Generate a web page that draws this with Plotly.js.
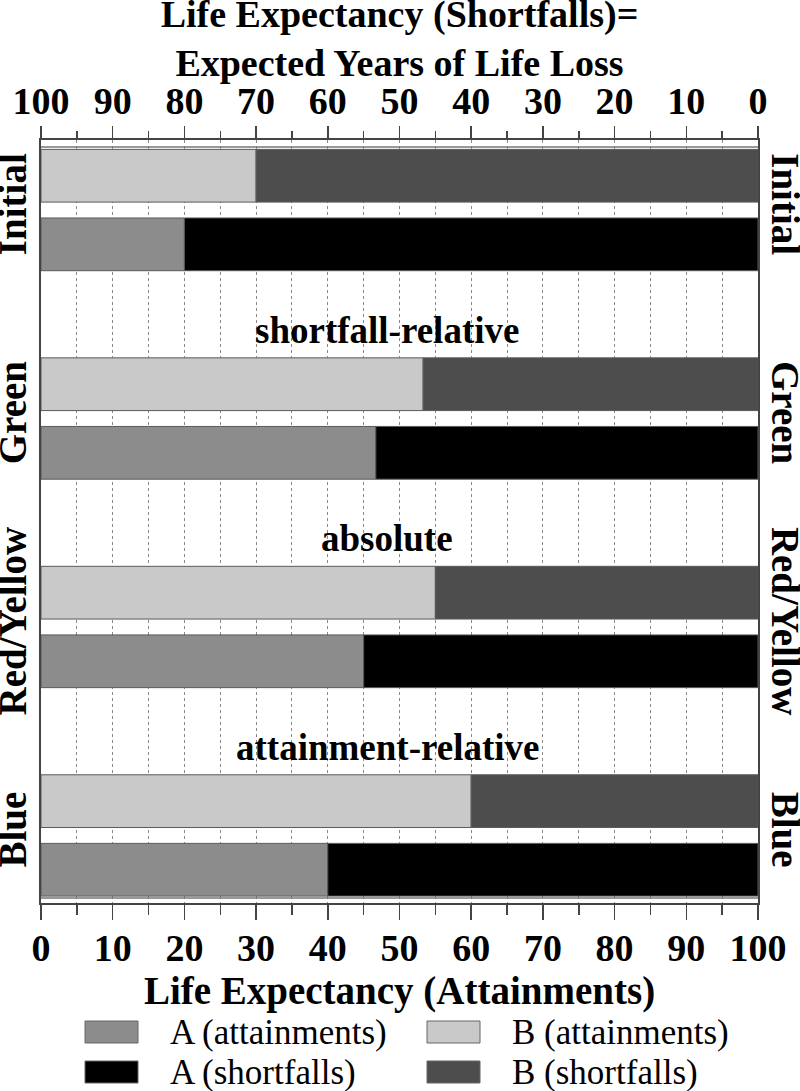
<!DOCTYPE html>
<html>
<head>
<meta charset="utf-8">
<script src="https://cdn.plot.ly/plotly-3.0.1.min.js"></script>
<style>html,body{margin:0;padding:0;background:#fff;}#chart{width:800px;height:1091px;}</style>
</head>
<body>
<div id="chart"></div>
<script>
// ---- data ----
const categories = ['Initial', 'Green', 'Red/Yellow', 'Blue'];
const aAttainments = [20, 46.7, 45, 40];
const aShortfalls  = [80, 53.3, 55, 60];
const bAttainments = [30, 53.3, 55, 60];
const bShortfalls  = [70, 46.7, 45, 40];
const scenarioNotes = ['', 'shortfall-relative', 'absolute', 'attainment-relative'];
const bottomTicks = [0, 10, 20, 30, 40, 50, 60, 70, 80, 90, 100];
const seriesNames = ['A (attainments)', 'B (attainments)', 'A (shortfalls)', 'B (shortfalls)'];

// ---- style ----
const FONT = 'Liberation Serif, Times New Roman, serif';
const colors = {
  'A (attainments)': '#8c8c8c',
  'A (shortfalls)': '#000000',
  'B (attainments)': '#c9c9c9',
  'B (shortfalls)': '#4d4d4d'
};
const barLine = {color: '#5a5a5a', width: 1};
const W = 800, H = 1091;
const M = {l: 41, r: 42, t: 140, b: 188};
const plotW = W - M.l - M.r, plotH = H - M.t - M.b;
const px2x = px => (px - M.l) / plotW;
const py2y = py => (H - M.b - py) / plotH;
const barWidth = 0.253;
const offB = -0.291, offA = 0.038;

function bar(name, x, base, offset) {
  return {
    type: 'bar', orientation: 'h', name: name,
    y: categories, x: x, base: base,
    width: categories.map(() => barWidth),
    offset: categories.map(() => offset),
    marker: {color: colors[name], line: barLine},
    showlegend: false, hoverinfo: 'x+y+name'
  };
}

const traces = [
  bar('B (attainments)', bAttainments, categories.map(() => 0), offB),
  bar('B (shortfalls)', bShortfalls, bAttainments, offB),
  bar('A (attainments)', aAttainments, categories.map(() => 0), offA),
  bar('A (shortfalls)', aShortfalls, aAttainments, offA),
  {
    type: 'scatter', mode: 'markers', x: aShortfalls, y: categories,
    xaxis: 'x2', yaxis: 'y2', marker: {opacity: 0}, hoverinfo: 'skip', showlegend: false
  }
];

const axisColor = '#444';
const tickFont = {family: FONT, size: 38, color: '#000', weight: 'bold'};
const catFont = {family: FONT, size: 39, color: '#000', weight: 'bold'};
const yRange = [3.324, -0.336];

const annotations = [];
scenarioNotes.forEach((t, i) => {
  if (!t) return;
  annotations.push({
    text: t, xref: 'x', yref: 'y', x: 48.3, y: i - 0.315,
    xanchor: 'center', yanchor: 'bottom', showarrow: false,
    font: {family: FONT, size: 37, color: '#000', weight: 'bold'}
  });
});

// legend (2 columns x 2 rows)
const shapes = [
  {type: 'line', xref: 'paper', yref: 'paper', x0: 0, x1: 1, y0: py2y(147), y1: py2y(147), line: {color: '#777', width: 1.5}},
  {type: 'line', xref: 'paper', yref: 'paper', x0: 0, x1: 1, y0: py2y(898), y1: py2y(898), line: {color: '#777', width: 1.5}}
];
const legCols = [85, 427];
const legRows = [1032, 1072];
seriesNames.forEach((n, i) => {
  const col = i % 2, row = Math.floor(i / 2);
  const sx = legCols[col], cy = legRows[row];
  shapes.push({
    type: 'rect', xref: 'paper', yref: 'paper',
    x0: px2x(sx), x1: px2x(sx + 53), y0: py2y(cy - 11), y1: py2y(cy + 11),
    fillcolor: colors[n], line: {color: '#666', width: 1}
  });
  annotations.push({
    text: n, xref: 'paper', yref: 'paper', x: px2x(sx + 83), y: py2y(cy),
    xanchor: 'left', yanchor: 'middle', showarrow: false,
    font: {family: FONT, size: 35, color: '#000'}
  });
});

const layout = {
  width: W, height: H, margin: M,
  paper_bgcolor: '#fff', plot_bgcolor: '#fff',
  barmode: 'overlay',
  title: {
    text: 'Life Expectancy (Shortfalls)=<br>Expected Years of Life Loss',
    font: {family: FONT, size: 38, color: '#000', weight: 'bold'},
    x: 0.5, xref: 'paper', xanchor: 'center',
    y: 0.9755, yref: 'container', yanchor: 'top'
  },
  xaxis: {
    range: [0, 100], tickvals: bottomTicks, ticks: 'outside', ticklen: 15, tickwidth: 1.5, tickcolor: axisColor,
    showline: true, linecolor: axisColor, linewidth: 2,
    showgrid: true, gridcolor: '#8a8a8a', griddash: 'dot', gridwidth: 1,
    minor: {dtick: 5, ticks: 'outside', ticklen: 10, tickwidth: 1.5, tickcolor: axisColor, showgrid: true, gridcolor: '#8a8a8a', griddash: 'dot', gridwidth: 1},
    zeroline: false, tickfont: tickFont, automargin: false, ticklabelstandoff: -5,
    title: {text: 'Life Expectancy (Attainments)', font: {family: FONT, size: 39, color: '#000', weight: 'bold'}, standoff: 0}
  },
  xaxis2: {
    overlaying: 'x', side: 'top', anchor: 'y',
    range: [100, 0], tickvals: bottomTicks, ticks: 'outside', ticklen: 12, tickwidth: 1.5, tickcolor: axisColor,
    minor: {dtick: 5, ticks: 'outside', ticklen: 7, tickwidth: 1.5, tickcolor: axisColor, showgrid: false},
    showline: true, linecolor: axisColor, linewidth: 2, showgrid: false, zeroline: false,
    tickfont: tickFont, automargin: false, ticklabelstandoff: -3
  },
  yaxis: {
    type: 'category', categoryorder: 'array', categoryarray: categories, range: yRange,
    showline: true, linecolor: axisColor, linewidth: 2, ticks: '', showgrid: false, zeroline: false,
    tickangle: -90, tickfont: catFont, automargin: false, ticklabelstandoff: -3
  },
  yaxis2: {
    type: 'category', categoryorder: 'array', categoryarray: categories, range: yRange,
    overlaying: 'y', side: 'right', anchor: 'x',
    showline: true, linecolor: axisColor, linewidth: 2, ticks: '', showgrid: false, zeroline: false,
    tickangle: 90, tickfont: catFont, automargin: false, ticklabelstandoff: -4
  },
  annotations: annotations,
  shapes: shapes
};

Plotly.newPlot('chart', traces, layout, {displayModeBar: false, staticPlot: true});
</script>
</body>
</html>
